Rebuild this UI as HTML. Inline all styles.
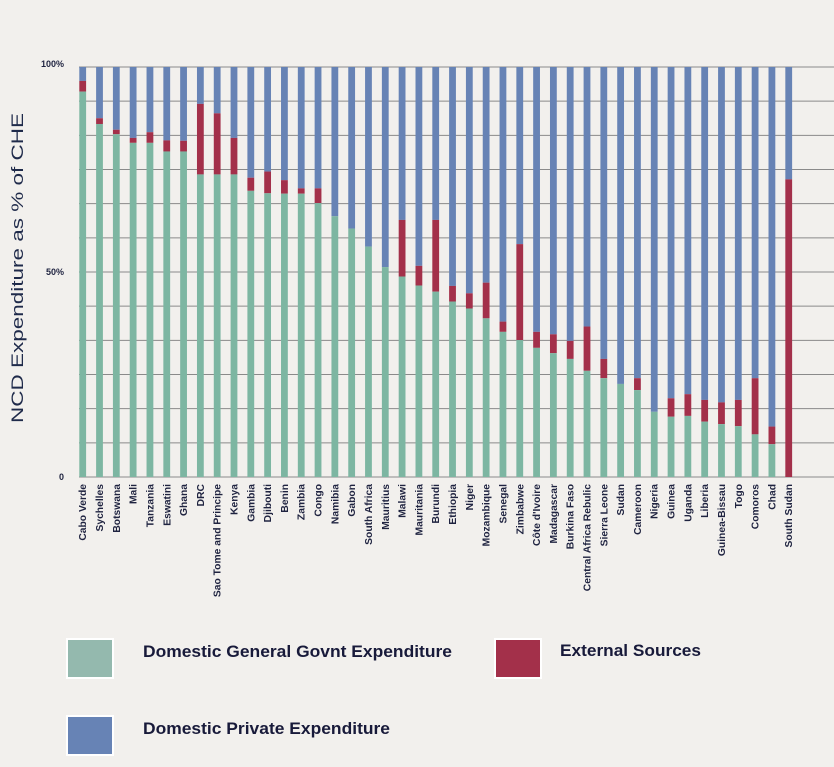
<!DOCTYPE html>
<html><head><meta charset="utf-8"><style>
body{margin:0;background:#f2f0ed;width:834px;height:767px;overflow:hidden;font-family:"Liberation Sans",sans-serif}
svg{display:block}
</style></head><body>
<svg id="chart" width="834" height="767">
<rect width="834" height="767" fill="#f2f0ed"/>
<g id="grid"></g>
<g id="bars"></g>
<g id="xlabels"></g>
<g id="ylabels"></g>
<text transform="translate(23,268) rotate(-90)" text-anchor="middle" font-size="17" fill="#1f2a4a" textLength="310" lengthAdjust="spacingAndGlyphs">NCD Expenditure as % of CHE</text>
<g>
<rect x="67" y="639" width="46" height="39" fill="#94b9ae" stroke="#fff" stroke-width="2"/>
<text x="143" y="657" font-size="16.5" font-weight="bold" fill="#181a3a" textLength="309" lengthAdjust="spacingAndGlyphs">Domestic General Govnt Expenditure</text>
<rect x="495" y="639" width="46" height="39" fill="#a3304a" stroke="#fff" stroke-width="2"/>
<text x="560" y="656" font-size="16.5" font-weight="bold" fill="#181a3a" textLength="141" lengthAdjust="spacingAndGlyphs">External Sources</text>
<rect x="67" y="716" width="46" height="39" fill="#6783b5" stroke="#fff" stroke-width="2"/>
<text x="143" y="734" font-size="16.5" font-weight="bold" fill="#181a3a" textLength="247" lengthAdjust="spacingAndGlyphs">Domestic Private Expenditure</text>
</g>
</svg>
<script>
const countries=["Cabo Verde","Sychelles","Botswana","Mali","Tanzania","Eswatini","Ghana","DRC","Sao  Tome and Principe","Kenya","Gambia","Djibouti","Benin","Zambia","Congo","Namibia","Gabon","South Africa","Mauritius","Malawi","Mauritania","Burundi","Ethiopia","Niger","Mozambique","Senegal","Zimbabwe","Côte d'Ivoire","Madagascar","Burkina Faso","Central Africa Rebulic","Sierra Leone","Sudan","Cameroon","Nigeria","Guinea","Uganda","Liberia","Guinea-Bissau","Togo","Comoros","Chad","South Sudan"];
const govt=[94,86.1,83.6,81.5,81.5,79.4,79.4,73.8,73.8,73.8,69.8,69.2,69.1,69.1,66.8,63.6,60.6,56.2,51.2,48.9,46.7,45.2,42.8,41.1,38.7,35.4,33.4,31.5,30.2,28.8,25.9,24.1,22.7,21.2,15.9,14.7,14.9,13.5,12.9,12.4,10.4,8.0,0];
const external=[2.6,1.4,1.1,1.2,2.6,2.7,2.6,17.2,14.9,8.9,3.2,5.3,3.3,1.3,3.6,0,0,0,0,13.8,4.8,17.5,3.8,3.7,8.7,2.5,23.4,3.9,4.6,4.4,10.8,4.7,0,2.9,0,4.5,5.3,5.3,5.3,6.4,13.7,4.3,72.6];
const yTicks=[0,50,100];
const yTickLabels=["0","50%","100%"];
const y0=477,yTop=67;
const y=v=>y0-(v/100)*(y0-yTop);
const x=i=>82.7+i*16.81;
const NS="http://www.w3.org/2000/svg";
const grid=document.getElementById('grid');
for(let k=0;k<=12;k++){
  const l=document.createElementNS(NS,'line');
  
  
  const yy=y(k*100/12);
  l.setAttribute('x1',79);l.setAttribute('x2',834);l.setAttribute('y1',yy);l.setAttribute('y2',yy);
  l.setAttribute('stroke','#8a8a8a');l.setAttribute('stroke-width','1');
  grid.appendChild(l);
}
const bars=document.getElementById('bars'),xl=document.getElementById('xlabels');
const bw=6.8;
function rect(x0,ya,yb,fill,name){
  if(yb-ya<=0)return;
  const r=document.createElementNS(NS,'rect');
  
  
  r.setAttribute('x',x0-bw/2);r.setAttribute('y',ya);r.setAttribute('width',bw);r.setAttribute('height',yb-ya);r.setAttribute('fill',fill);
  bars.appendChild(r);
}
countries.forEach((c,i)=>{
  const g=govt[i],e=external[i];
  rect(x(i),y(100),y(g+e),'#6783b5','bar-private');
  rect(x(i),y(g+e),y(g),'#a3304a','bar-external');
  rect(x(i),y(g),y(0),'#7db6a2','bar-govt');
  const t=document.createElementNS(NS,'text');
  
  
  t.setAttribute('transform',`translate(${x(i)+3.5},484) rotate(-90)`);
  t.setAttribute('text-anchor','end');t.setAttribute('font-size','10.3');t.setAttribute('font-weight','bold');t.setAttribute('fill','#1f2340');
  t.textContent=c;xl.appendChild(t);
});
const yl=document.getElementById('ylabels');
yTicks.forEach((v,i)=>{
  const t=document.createElementNS(NS,'text');
  
  
  t.setAttribute('x',64);t.setAttribute('y',y(v)+(v===100?0:3));t.setAttribute('text-anchor','end');
  t.setAttribute('font-size','9');t.setAttribute('font-weight','bold');t.setAttribute('fill','#1f2340');
  t.textContent=yTickLabels[i];yl.appendChild(t);
});
</script>
</body></html>
